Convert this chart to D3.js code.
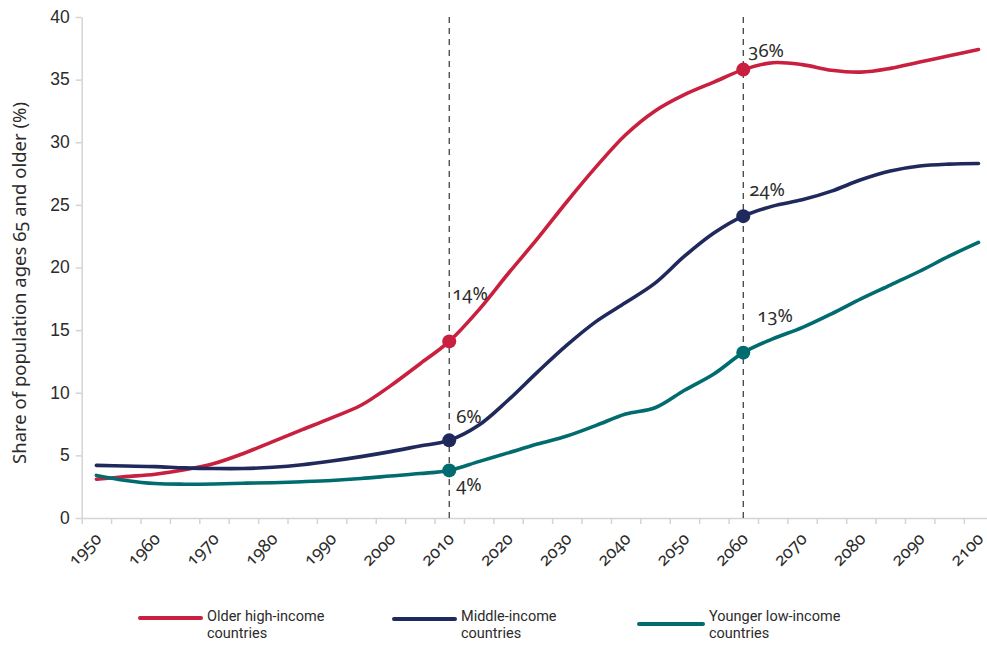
<!DOCTYPE html>
<html>
<head>
<meta charset="utf-8">
<script src="https://cdn.jsdelivr.net/npm/d3@7"></script>
<style>
  body { margin: 0; background: #fff; }
  svg { font-family: "Noto Sans", sans-serif; font-variant-numeric: oldstyle-nums; }
  .axis path, .axis line { stroke: #d4d4d4; stroke-width: 1.5; }
  .axis text { fill: #2b2b2b; font-size: 17.5px; }
  .legend text { font-family: Roboto, sans-serif; font-size: 14.5px; fill: #2b2b2b; }
</style>
</head>
<body>
<svg class="chart"></svg>
<script>
let width = 987;
let height = 645;

// Data (5-year steps)
let years = [1950, 1955, 1960, 1965, 1970, 1975, 1980, 1985, 1990, 1995, 2000, 2005,
  2010, 2015, 2020, 2025, 2030, 2035, 2040, 2045, 2050, 2055, 2060, 2065, 2070,
  2075, 2080, 2085, 2090, 2095, 2100];

let olderHigh = [3.1, 3.3, 3.5, 3.85, 4.35, 5.15, 6.1, 7.05, 8.0, 9.0, 10.55, 12.3,
  14.1, 16.6, 19.5, 22.3, 25.25, 28.05, 30.6, 32.5, 33.8, 34.8, 35.8, 36.35, 36.2,
  35.75, 35.6, 35.9, 36.4, 36.9, 37.4];

let middle = [4.2, 4.15, 4.1, 4.0, 3.95, 3.95, 4.05, 4.25, 4.55, 4.9, 5.3, 5.75,
  6.2, 7.4, 9.4, 11.65, 13.8, 15.7, 17.2, 18.75, 20.9, 22.75, 24.1, 24.9, 25.4,
  26.1, 27.0, 27.7, 28.1, 28.25, 28.3];

let youngerLow = [3.4, 3.0, 2.75, 2.7, 2.72, 2.78, 2.82, 2.9, 3.0, 3.15, 3.35, 3.55,
  3.8, 4.5, 5.2, 5.9, 6.55, 7.4, 8.3, 8.8, 10.2, 11.5, 13.2, 14.3, 15.2,
  16.3, 17.5, 18.6, 19.7, 20.9, 22.0];

let seriesNames = ["Older high-income countries", "Middle-income countries", "Younger low-income countries"];
let seriesColors = ["#c8203e", "#1f295c", "#006c70"];
let markerYears = [2010, 2060];
let yTicks = [0, 5, 10, 15, 20, 25, 30, 35, 40];
let xLabelYears = [1950, 1960, 1970, 1980, 1990, 2000, 2010, 2020, 2030, 2040, 2050, 2060, 2070, 2080, 2090, 2100];

// label offsets [series][marker] -> [dx, dy]
let labelOffsets = [
  [[3, -41], [5, -13]],
  [[7, -17], [6, -20]],
  [[7, 21], [14, -31]]
];

let allSeries = [olderHigh, middle, youngerLow];

let svg = d3.select(".chart")
  .attr("width", width)
  .attr("height", height);

let x = d3.scaleLinear().domain([1947.5, 2102.5]).range([81.7, 993.2]);
let y = d3.scaleLinear().domain([0, 40]).range([518, 17]);

// Y axis
let yAxis = svg.append("g")
  .attr("class", "axis")
  .attr("transform", "translate(" + x.range()[0] + ",0)")
  .call(d3.axisLeft(y).tickValues(yTicks).tickSize(6).tickPadding(6).tickSizeOuter(0));
yAxis.selectAll("text").attr("dy", "0.3em");

// X axis: tick marks between categories
let boundaries = d3.range(1947.5, 2103, 5);
svg.append("g")
  .attr("class", "axis")
  .attr("transform", "translate(0," + y(0) + ")")
  .call(d3.axisBottom(x).tickValues(boundaries).tickSize(6).tickFormat("").tickSizeOuter(0));

svg.append("g")
  .attr("class", "axis")
  .selectAll("text")
  .data(xLabelYears)
  .enter().append("text")
  .attr("text-anchor", "end")
  .attr("transform", function(d) {
    return "translate(" + (x(d) + 6) + ",540) rotate(-45)";
  })
  .text(function(d) { return d; });

// Y axis title
svg.append("text")
  .attr("transform", "translate(26,283) rotate(-90)")
  .attr("text-anchor", "middle")
  .style("font-size", "18.5px")
  .style("fill", "#2b2b2b")
  .text("Share of population ages 65 and older (%)");

// dashed reference lines
svg.append("g")
  .selectAll("line")
  .data(markerYears)
  .enter().append("line")
  .attr("x1", function(d) { return x(d); })
  .attr("x2", function(d) { return x(d); })
  .attr("y1", y(40))
  .attr("y2", y(0))
  .attr("stroke", "#333")
  .attr("stroke-width", 1.2)
  .attr("stroke-dasharray", "6,5");

// lines
let line = d3.line()
  .x(function(d, i) { return x(years[i]); })
  .y(function(d) { return y(d); })
  .curve(d3.curveCatmullRom.alpha(0.5));

svg.append("g")
  .selectAll("path")
  .data(allSeries)
  .enter().append("path")
  .attr("d", line)
  .attr("fill", "none")
  .attr("stroke", function(d, i) { return seriesColors[i]; })
  .attr("stroke-width", 3.6)
  .attr("stroke-linecap", "round");

// markers and labels
allSeries.forEach(function(values, si) {
  markerYears.forEach(function(yr, mi) {
    let v = values[years.indexOf(yr)];
    svg.append("circle")
      .attr("cx", x(yr))
      .attr("cy", y(v))
      .attr("r", 7)
      .attr("fill", seriesColors[si]);
    svg.append("text")
      .attr("x", x(yr) + labelOffsets[si][mi][0])
      .attr("y", y(v) + labelOffsets[si][mi][1])
      .style("font-size", "18.5px")
      .style("fill", "#2b2b2b")
      .text(Math.round(v) + "%");
  });
});

// legend
let legendX = [138, 392, 637];
let legendLineY = [618, 619, 624];
let legendTextX = [207, 461, 709];
let legend = svg.append("g").attr("class", "legend");
seriesNames.forEach(function(name, i) {
  legend.append("line")
    .attr("x1", legendX[i] + 2)
    .attr("x2", legendTextX[i] - 6)
    .attr("y1", legendLineY[i])
    .attr("y2", legendLineY[i])
    .attr("stroke", seriesColors[i])
    .attr("stroke-width", 4)
    .attr("stroke-linecap", "round");
  let parts = name.split(" countries");
  let t = legend.append("text").attr("x", legendTextX[i]).attr("y", 621);
  t.append("tspan").attr("x", legendTextX[i]).text(parts[0]);
  t.append("tspan").attr("x", legendTextX[i]).attr("dy", 17).text("countries");
});
</script>
</body>
</html>
